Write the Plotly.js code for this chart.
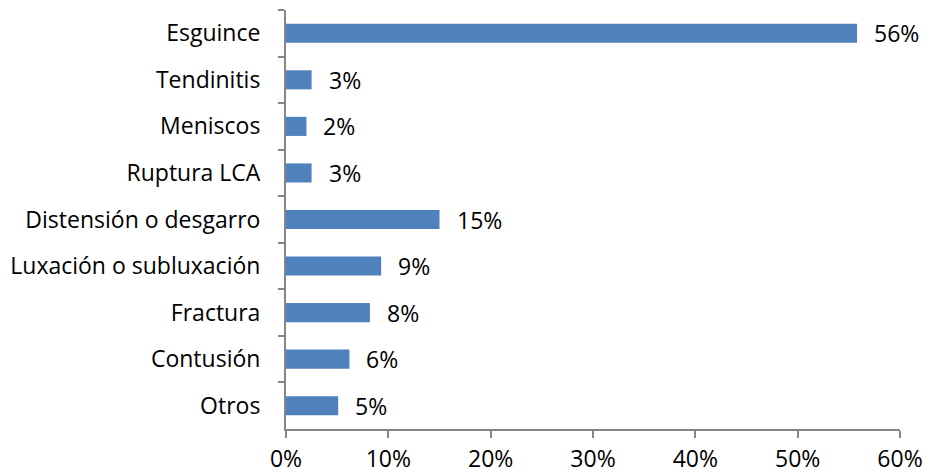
<!DOCTYPE html>
<html>
<head>
<meta charset="utf-8">
<script src="https://cdn.plot.ly/plotly-3.0.1.min.js"></script>
<style>html,body{margin:0;padding:0;background:#fff;}#chart{width:931px;height:476px;}</style>
</head>
<body>
<div id="chart"></div>
<script>
const categories = ["Esguince", "Tendinitis", "Meniscos", "Ruptura LCA", "Distensión o desgarro", "Luxación o subluxación", "Fractura", "Contusión", "Otros"];
const values = [0.558, 0.025, 0.02, 0.025, 0.15, 0.093, 0.082, 0.062, 0.051];
const labels = ["56%", "3%", "2%", "3%", "15%", "9%", "8%", "6%", "5%"];
const tickVals = [0, 0.1, 0.2, 0.3, 0.4, 0.5, 0.6];
const tickText = ["0%", "10%", "20%", "30%", "40%", "50%", "60%"];

const font = {family: "'Open Sans', 'Noto Sans', sans-serif", size: 23, color: "#000"};
const axisColor = "#868686";

const trace = {
  type: "bar",
  orientation: "h",
  y: categories,
  x: values,
  marker: {color: "#4F81BD"},
  width: 0.41,
  hoverinfo: "none"
};

const annotations = categories.map((c, i) => ({
  x: values[i], y: c, xref: "x", yref: "y",
  text: labels[i], showarrow: false,
  xanchor: "left", yanchor: "middle", xshift: 15, yshift: 0,
  font: font
}));

const layout = {
  width: 931, height: 476,
  margin: {l: 286, r: 31, t: 10, b: 47},
  paper_bgcolor: "#fff", plot_bgcolor: "#fff",
  font: font,
  showlegend: false,
  xaxis: {
    range: [0, 0.6], tickvals: tickVals, ticktext: tickText,
    showgrid: false, zeroline: false,
    showline: true, linecolor: axisColor, linewidth: 2,
    ticks: "outside", ticklen: 7, tickcolor: axisColor, tickwidth: 2,
    ticklabelstandoff: 1,
    tickfont: font
  },
  yaxis: {
    autorange: "reversed", type: "category",
    showgrid: false, zeroline: false,
    showline: true, linecolor: axisColor, linewidth: 2,
    ticks: "outside", ticklen: 6, tickcolor: axisColor, tickwidth: 2,
    tickson: "boundaries", ticklabelstandoff: 19,
    tickfont: font
  },
  annotations: annotations
};

Plotly.newPlot("chart", [trace], layout, {displayModeBar: false, staticPlot: true});
</script>
</body>
</html>
